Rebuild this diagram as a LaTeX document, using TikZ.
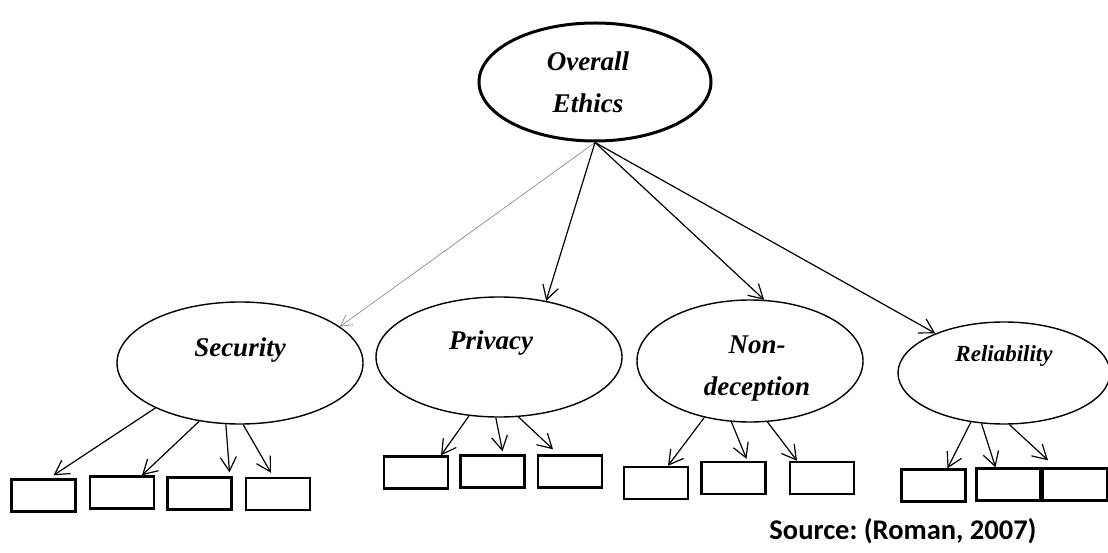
\documentclass[tikz,border=0pt]{standalone}
\usepackage{fontspec}
\setmainfont{Liberation Serif}
\newfontfamily\srcfont{Carlito}
\usetikzlibrary{arrows.meta,shapes.geometric}
\frenchspacing

\begin{document}
\begin{tikzpicture}[x=1pt,y=-1pt,
  cat/.style={draw,ellipse,line width=1.4pt,inner sep=0pt},
  lbl/.style={font=\fontsize{27}{42}\selectfont\bfseries\itshape,align=center},
  item/.style={draw,rectangle,line width=2.4pt,minimum width=64pt,minimum height=32pt,inner sep=0pt},
  arr/.style={-{Straight Barb[length=14pt,width=16pt]},line width=1.2pt}]
\useasboundingbox (0,0) rectangle (1108,553);
% ellipses
\node[cat,line width=3pt,minimum width=232pt,minimum height=118pt,
      label={[lbl,xshift=-7pt]center:{Overall\\Ethics}}] (oe) at (595,82) {};
\node[cat,minimum width=246pt,minimum height=122pt,
      label={[lbl,yshift=13pt]center:Security}] (sec) at (240,363) {};
\node[cat,minimum width=246pt,minimum height=120pt,
      label={[lbl,xshift=-8pt,yshift=14pt]center:Privacy}] (pri) at (499,357) {};
\node[cat,minimum width=226pt,minimum height=122pt,
      label={[lbl,xshift=7pt,yshift=-8pt]center:{Non-\\deception}}] (non) at (750,361) {};
\node[cat,minimum width=212pt,minimum height=102pt,
      label={[lbl,font=\fontsize{23}{28}\selectfont\bfseries\itshape,yshift=17pt]center:Reliability}] (rel) at (1004,373) {};
% boxes
\node[item] (s1) at (43.5,495.5) {};
\node[item] (s2) at (122,492.5) {};
\node[item] (s3) at (199.5,493.5) {};
\node[item] (s4) at (278,494) {};
\node[item] (p1) at (416,472.5) {};
\node[item] (p2) at (492.5,471.5) {};
\node[item] (p3) at (570,471.5) {};
\node[item] (n1) at (656,483) {};
\node[item] (n2) at (733.5,478) {};
\node[item] (n3) at (822,478) {};
\node[item] (r1) at (933.5,485.5) {};
\node[item] (r2) at (1008.5,484.5) {};
\node[item] (r3) at (1075,484.5) {};
% top level arrows
\draw[-{Straight Barb[length=11pt,width=12pt]},gray,line width=0.6pt] (oe.south) -- (sec.20);
\draw[arr] (oe.south) -- (pri.50);
\draw[arr] (oe.south) -- (non.77);
\draw[arr] (oe.south) -- (rel.150);
% second level arrows
\draw[arr] (sec.208) -- ([xshift=10pt,yshift=3pt]s1.north);
\draw[arr] (sec.235) -- ([xshift=20pt]s2.north);
\draw[arr] (sec.257) -- ([xshift=30pt,yshift=4pt]s3.north);
\draw[arr] (sec.273) -- ([xshift=-7pt,yshift=4pt]s4.north);
\draw[arr] (pri.243) -- ([xshift=25pt]p1.north);
\draw[arr] (pri.267) -- ([xshift=10pt,yshift=3pt]p2.north);
\draw[arr] (pri.288) -- ([xshift=-17pt,yshift=5pt]p3.north);
\draw[arr] (non.231) -- ([xshift=12pt]n1.north);
\draw[arr] (non.253) -- ([xshift=13pt,yshift=2pt]n2.north);
\draw[arr] (non.286) -- ([xshift=-25pt]n3.north);
\draw[arr] (rel.236) -- ([xshift=14pt]r1.north);
\draw[arr] (rel.246) -- ([xshift=-13pt]r2.north);
\draw[arr] (rel.276) -- ([xshift=-27pt,yshift=7pt]r3.north);
\node[font=\srcfont\bfseries\fontsize{28.5}{32}\selectfont] (src) at (903,531) {Source: (Roman, 2007)};
\end{tikzpicture}
\end{document}
